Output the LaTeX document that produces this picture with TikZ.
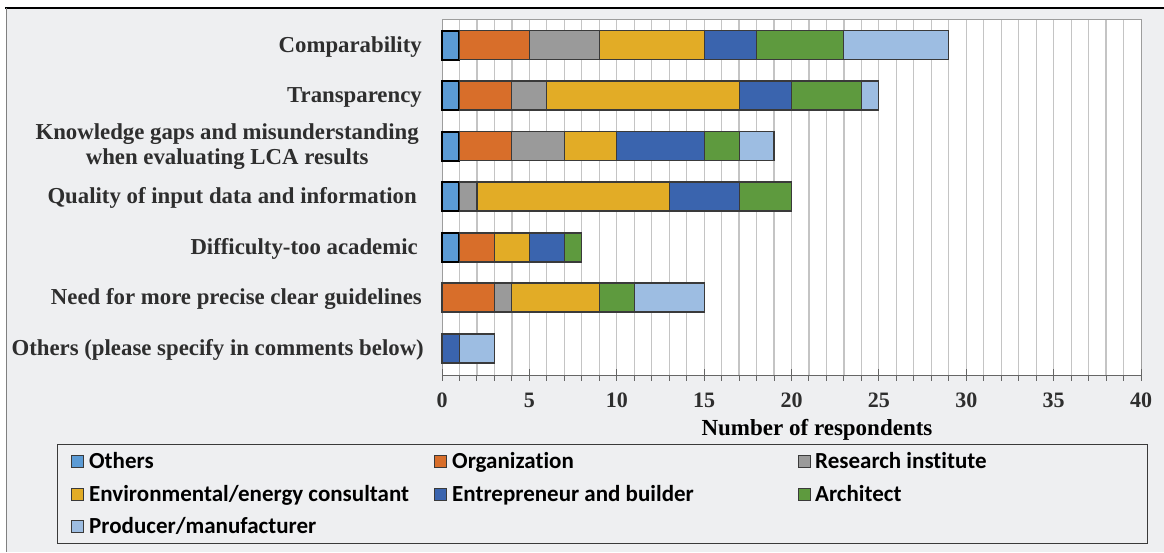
\documentclass[tikz,border=0pt]{standalone}
\usepackage{fontspec}
\setmainfont{Liberation Serif}
\newfontfamily\legfont[Ligatures=NoCommon]{Carlito}
\definecolor{bggray}{HTML}{EEEFF1}
\definecolor{cOth}{HTML}{5B9BD5}
\definecolor{cOrg}{HTML}{D86E2A}
\definecolor{cRes}{HTML}{9A9A9A}
\definecolor{cEnv}{HTML}{E2AC26}
\definecolor{cEnt}{HTML}{3A64AE}
\definecolor{cArc}{HTML}{5E9A3E}
\definecolor{cPro}{HTML}{9DBDE2}
\definecolor{edge}{HTML}{3A3A3A}
\definecolor{gridc}{HTML}{C4C4C4}
\definecolor{txt}{HTML}{2E2E2E}
\tikzset{
  bar/.style={draw=edge,line width=1.1pt},
  othbar/.style={draw=black,line width=2pt},
  cat/.style={anchor=base east,font=\fontsize{22.8}{25}\selectfont\bfseries,text=txt,inner sep=0pt,align=center},
  ticklab/.style={font=\fontsize{22}{24}\selectfont\bfseries,text=txt,inner sep=0pt},
  legtxt/.style={anchor=base west,font=\fontsize{23}{25}\selectfont\legfont\bfseries,text=black,inner sep=0pt},
  legsq/.style={draw=edge,line width=1pt,minimum size=12pt,inner sep=0pt}
}
\newcommand\seg[4]{\draw[bar,fill=#4] ({442+#2*17.475},{#1-14.5}) rectangle ({442+#3*17.475},{#1+14.5});}
\newcommand\oseg[4]{\draw[othbar,fill=#4] ({442+#2*17.475},{#1-14.5}) rectangle ({442+#3*17.475},{#1+14.5});}
\begin{document}
\begin{tikzpicture}[x=1pt,y=-1pt]
\useasboundingbox (0,0) rectangle (1164,552);
\fill[white] (0,0) rectangle (1164,552);
\fill[bggray] (6,8) rectangle (1164,552);
\draw[black,line width=1.5pt] (5,8) -- (1164,8);
\draw[gray,line width=1pt] (6,8) -- (6,552);
% plot area
\fill[white] (442,19) rectangle (1141,375);
\foreach \k in {1,...,39} {
  \draw[gridc,line width=1.2pt] ({442+\k*17.475},19) -- ({442+\k*17.475},375);
}
\draw[gridc!80!black,line width=0.8pt] (442,375) -- (442,19) -- (1141,19) -- (1141,375);
% axis
\draw[gray!80!black,line width=1pt] (442,375) -- (1141,375);
\foreach \k in {0,...,40} {
  \draw[gray!80!black,line width=1pt] ({442+\k*17.475},375) -- ({442+\k*17.475},381);
}
\foreach \k in {0,5,...,40} {
  \draw[gray!80!black,line width=1pt] ({442+\k*17.475},369) -- ({442+\k*17.475},375);
  \node[ticklab] (t\k) at ({442+\k*17.475},400) {\k};
}
\node[ticklab,font=\fontsize{23}{25}\selectfont\bfseries,text=black] (xlab) at (817,430) {Number of respondents};
% bars
% Comparability
\oseg{45}{0}{1}{cOth}\seg{45}{1}{5}{cOrg}\seg{45}{5}{9}{cRes}\seg{45}{9}{15}{cEnv}\seg{45}{15}{18}{cEnt}\seg{45}{18}{23}{cArc}\seg{45}{23}{29}{cPro}
% Transparency
\oseg{95.5}{0}{1}{cOth}\seg{95.5}{1}{4}{cOrg}\seg{95.5}{4}{6}{cRes}\seg{95.5}{6}{17}{cEnv}\seg{95.5}{17}{20}{cEnt}\seg{95.5}{20}{24}{cArc}\seg{95.5}{24}{25}{cPro}
% Knowledge
\oseg{146}{0}{1}{cOth}\seg{146}{1}{4}{cOrg}\seg{146}{4}{7}{cRes}\seg{146}{7}{10}{cEnv}\seg{146}{10}{15}{cEnt}\seg{146}{15}{17}{cArc}\seg{146}{17}{19}{cPro}
% Quality
\oseg{196.5}{0}{1}{cOth}\seg{196.5}{1}{2}{cRes}\seg{196.5}{2}{13}{cEnv}\seg{196.5}{13}{17}{cEnt}\seg{196.5}{17}{20}{cArc}
% Difficulty
\oseg{247.5}{0}{1}{cOth}\seg{247.5}{1}{3}{cOrg}\seg{247.5}{3}{5}{cEnv}\seg{247.5}{5}{7}{cEnt}\seg{247.5}{7}{8}{cArc}
% Need
\seg{297.5}{0}{3}{cOrg}\seg{297.5}{3}{4}{cRes}\seg{297.5}{4}{9}{cEnv}\seg{297.5}{9}{11}{cArc}\seg{297.5}{11}{15}{cPro}
% Others
\seg{348.5}{0}{1}{cEnt}\seg{348.5}{1}{3}{cPro}
% category labels
\node[cat] (l1) at (422,52) {Comparability};
\node[cat] (l2) at (422,102.5) {Transparency};
\node[cat,anchor=east] (l3) at (419,146.5) {Knowledge gaps and misunderstanding\\when evaluating LCA results};
\node[cat] (l4) at (417,203.5) {Quality of input data and information};
\node[cat] (l5) at (418,254.5) {Difficulty-too academic};
\node[cat] (l6) at (422,304.5) {Need for more precise clear guidelines};
\node[cat] (l7) at (424,355.5) {Others (please specify in comments below)};
% legend
\draw[edge,line width=1pt,fill=bggray] (57,444) rectangle (1147,543);
\node[legsq,fill=cOth] (s1) at (77,461) {};
\node[legtxt] (g1) at (89,468) {Others};
\node[legsq,fill=cOrg] (s2) at (440,461) {};
\node[legtxt] (g2) at (452,468) {Organization};
\node[legsq,fill=cRes] (s3) at (804,461) {};
\node[legtxt] (g3) at (815,468) {Research institute};
\node[legsq,fill=cEnv] (s4) at (77,494) {};
\node[legtxt] (g4) at (89,501) {Environmental/energy consultant};
\node[legsq,fill=cEnt] (s5) at (440,494) {};
\node[legtxt] (g5) at (452,501) {Entrepreneur and builder};
\node[legsq,fill=cArc] (s6) at (804,494) {};
\node[legtxt] (g6) at (815,501) {Architect};
\node[legsq,fill=cPro] (s7) at (77,526) {};
\node[legtxt] (g7) at (89,533) {Producer/manufacturer};
\end{tikzpicture}
\end{document}
